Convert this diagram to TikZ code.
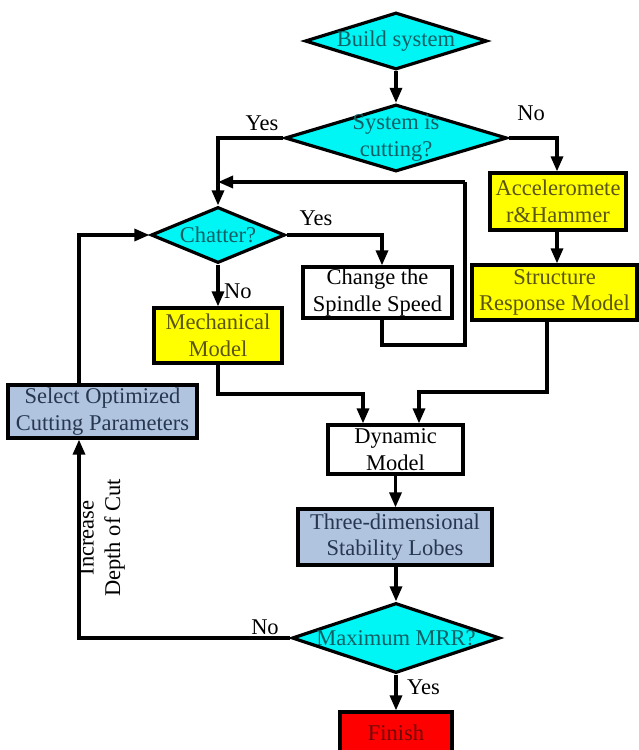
\documentclass[tikz,border=0pt]{standalone}
\usepackage{fontspec}
\setmainfont{Liberation Serif}
\usetikzlibrary{shapes.geometric,arrows.meta}
\definecolor{cyanf}{RGB}{0,245,245}
\definecolor{cyant}{RGB}{15,95,100}
\definecolor{yelf}{RGB}{255,255,0}
\definecolor{yelt}{RGB}{90,85,20}
\definecolor{bluef}{RGB}{176,196,224}
\definecolor{bluet}{RGB}{40,55,80}
\definecolor{redf}{RGB}{255,0,0}
\definecolor{redt}{RGB}{110,10,10}
\tikzset{
  base/.style={draw=black, line width=3.2pt, inner sep=0pt, align=center,
    font=\fontsize{22.5}{26.5}\selectfont},
  dia/.style={base, shape=diamond, fill=cyanf},
  dtext/.style={text=cyant, align=center, inner sep=0pt, font=\fontsize{22.5}{27}\selectfont},
  yelbox/.style={base, rectangle, fill=yelf, text=yelt},
  bluebox/.style={base, rectangle, fill=bluef, text=bluet},
  whitebox/.style={base, rectangle, fill=white, text=black},
  redbox/.style={base, rectangle, fill=redf, text=redt},
  conn/.style={line width=3.2pt, draw=black},
  arr/.style={conn, -{Triangle[length=15pt,width=12pt]}},
  lab/.style={font=\fontsize{22.5}{26.5}\selectfont, text=black, inner sep=0pt, align=center}
}
\begin{document}
\begin{tikzpicture}[x=1pt,y=-1pt]
\useasboundingbox (0,0) rectangle (639,750);
% diamonds
\node[dia, minimum width=182pt, minimum height=57pt,
  label={[dtext]center:Build system}] (build) at (396,41) {};
\node[dia, minimum width=222pt, minimum height=67pt,
  label={[dtext]center:System is\\cutting?}] (sys) at (396,138) {};
\node[dia, minimum width=134pt, minimum height=56pt,
  label={[dtext]center:Chatter?}] (chat) at (218,235) {};
\node[dia, minimum width=208pt, minimum height=70pt,
  label={[dtext]center:Maximum MRR?}] (max) at (396,638) {};
% boxes
\node[yelbox, minimum width=136pt, minimum height=57pt] (acc) at (558,201.5) {Acceleromete\\r\&Hammer};
\node[yelbox, minimum width=165pt, minimum height=55pt] (str) at (554.5,292.5) {Structure\\Response Model};
\node[whitebox, minimum width=149pt, minimum height=51pt] (chg) at (377.5,292.5) {Change the\\Spindle Speed};
\node[yelbox, minimum width=128pt, minimum height=55pt] (mech) at (218,335.5) {Mechanical\\Model};
\node[bluebox, minimum width=189pt, minimum height=53pt] (sel) at (102.5,411.5) {Select Optimized\\Cutting Parameters};
\node[whitebox, minimum width=135pt, minimum height=49pt] (dyn) at (395.5,449.5) {Dynamic\\Model};
\node[bluebox, minimum width=194pt, minimum height=56pt] (three) at (395,537) {Three-dimensional\\Stability Lobes};
\node[redbox, minimum width=112pt, minimum height=42pt] (fin) at (396,733) {Finish};
% helper coordinates
\coordinate (lx) at (79,0);
\coordinate (yesx) at (218,0);
\coordinate (nox) at (557,0);
\coordinate (loopR) at (465,182);
\coordinate (loopB) at (465,345);
\coordinate (chgx) at (382,0);
\coordinate (mechY) at (0,394);
\coordinate (strY) at (0,392);
\coordinate (dynL) at (363,0);
\coordinate (dynR) at (419,0);
\coordinate (strx) at (547,0);
% connectors
\draw[arr] (build.south) -- (sys.north);
\draw[arr] (sys.west) -| (chat.north);
\draw[arr] (sys.east) -| (nox |- acc.north);
\draw[arr] (nox |- acc.south) -- (nox |- str.north);
\draw[conn] (chgx |- chg.south) |- (loopB) -- (loopR);
\draw[arr] (loopR) -- (yesx |- loopR);
\draw[arr] (chat.east) -| (chgx |- chg.north);
\draw[arr] (chat.south) -- (mech.north);
\draw[arr] (mech.south) |- (dynL |- mechY) -- (dynL |- dyn.north);
\draw[arr] (strx |- str.south) |- (dynR |- strY) -- (dynR |- dyn.north);
\draw[arr] (dyn.south) -- (dyn.south |- three.north);
\draw[arr] (three.south -| max.north) -- (max.north);
\draw[arr] (max.south) -- (fin.north);
\draw[arr] (max.west) -| (lx |- sel.south);
\draw[arr] (lx |- sel.north) |- (chat.west);
% labels
\node[lab] (lyes1) at (262,123) {Yes};
\node[lab] (lno1) at (531,113) {No};
\node[lab] (lyes2) at (316,218) {Yes};
\node[lab, anchor=west] (lno2) at (224,291) {No};
\node[lab] (lno3) at (265,627) {No};
\node[lab, anchor=west] (lyes3) at (407,687) {Yes};
\node[lab, rotate=90] (linc) at (102,538) {Increase\\Depth of Cut};
\end{tikzpicture}
\end{document}
